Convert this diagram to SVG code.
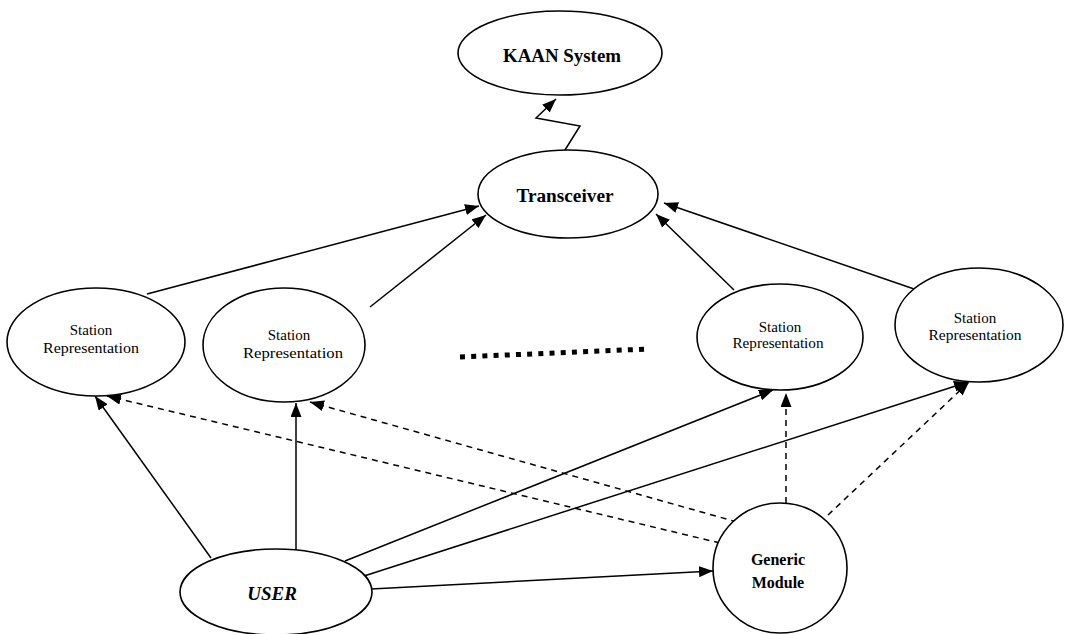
<svg xmlns="http://www.w3.org/2000/svg" width="1070" height="634" viewBox="0 0 1070 634">
  <style>
    .node { fill: #fff; stroke: #000; stroke-width: 1.6; }
    .lbl { font-family: "Liberation Serif", "Times New Roman", serif; fill: #000; text-anchor: middle; }
    .b { font-weight: bold; }
    .st { font-size: 15px; }
    .edge { fill: none; stroke: #000; stroke-width: 1.5; }
    .dash { stroke-dasharray: 6 5; }
  </style>
  <defs>
    <marker id="arrow" markerUnits="userSpaceOnUse" markerWidth="15" markerHeight="11" refX="14" refY="5.5" orient="auto">
      <path d="M0,0 L14,5.5 L0,11 z" fill="#000"/>
    </marker>
  </defs>
  <rect width="1070" height="634" fill="#fff"/>

  <g id="connectors">
    <!-- radio link -->
    <path class="edge" d="M565,150 L580,126 L536,118 L556,99" marker-end="url(#arrow)"/>
    <!-- stations to transceiver -->
    <line class="edge" x1="147" y1="294" x2="479" y2="206" marker-end="url(#arrow)"/>
    <line class="edge" x1="370" y1="307" x2="486" y2="215" marker-end="url(#arrow)"/>
    <line class="edge" x1="734" y1="290" x2="656" y2="214" marker-end="url(#arrow)"/>
    <line class="edge" x1="917" y1="290" x2="664" y2="203" marker-end="url(#arrow)"/>
    <!-- user links -->
    <line class="edge" x1="211" y1="558" x2="95" y2="396" marker-end="url(#arrow)"/>
    <line class="edge" x1="296" y1="552" x2="296" y2="403" marker-end="url(#arrow)"/>
    <line class="edge" x1="345" y1="561" x2="773" y2="390" marker-end="url(#arrow)"/>
    <line class="edge" x1="364" y1="576" x2="968" y2="382" marker-end="url(#arrow)"/>
    <line class="edge" x1="371" y1="589" x2="713" y2="571" marker-end="url(#arrow)"/>
    <!-- generic module links -->
    <line class="edge dash" x1="720" y1="543" x2="107" y2="396" marker-end="url(#arrow)"/>
    <line class="edge dash" x1="737" y1="522" x2="310" y2="402" marker-end="url(#arrow)"/>
    <line class="edge dash" x1="786" y1="503" x2="786" y2="393" marker-end="url(#arrow)"/>
    <line class="edge dash" x1="828" y1="515" x2="969" y2="382" marker-end="url(#arrow)"/>
    <!-- ellipsis between stations -->
    <line x1="460" y1="357" x2="648" y2="349" stroke="#000" stroke-width="5" stroke-dasharray="5 6.2"/>
  </g>

  <g id="kaan">
    <ellipse class="node" cx="560" cy="53" rx="102" ry="42"/>
    <text class="lbl b" x="562" y="62" font-size="18" textLength="118" lengthAdjust="spacingAndGlyphs">KAAN System</text>
  </g>

  <g id="transceiver">
    <ellipse class="node" cx="568" cy="194" rx="90" ry="44"/>
    <text class="lbl b" x="565" y="202" font-size="18" textLength="97" lengthAdjust="spacingAndGlyphs">Transceiver</text>
  </g>

  <g id="station1">
    <ellipse class="node" cx="96" cy="342" rx="89" ry="54"/>
    <text class="lbl st" x="91" y="335">Station</text>
    <text class="lbl st" x="91" y="353" textLength="96" lengthAdjust="spacingAndGlyphs">Representation</text>
  </g>

  <g id="station2">
    <ellipse class="node" cx="284" cy="345" rx="81" ry="57"/>
    <text class="lbl st" x="289" y="340">Station</text>
    <text class="lbl st" x="293" y="358" textLength="100" lengthAdjust="spacingAndGlyphs">Representation</text>
  </g>

  <g id="station3">
    <ellipse class="node" cx="780" cy="337" rx="83" ry="53"/>
    <text class="lbl st" x="780" y="332">Station</text>
    <text class="lbl st" x="778" y="348" textLength="91" lengthAdjust="spacingAndGlyphs">Representation</text>
  </g>

  <g id="station4">
    <ellipse class="node" cx="979" cy="325" rx="84" ry="57"/>
    <text class="lbl st" x="975" y="323">Station</text>
    <text class="lbl st" x="975" y="340" textLength="93" lengthAdjust="spacingAndGlyphs">Representation</text>
  </g>

  <g id="user">
    <ellipse class="node" cx="276" cy="592" rx="96" ry="43"/>
    <text class="lbl b" x="272" y="600" font-size="19" font-style="italic">USER</text>
  </g>

  <g id="generic">
    <ellipse class="node" cx="780" cy="568" rx="67" ry="65"/>
    <text class="lbl b" x="778" y="565" font-size="16">Generic</text>
    <text class="lbl b" x="778" y="588" font-size="16">Module</text>
  </g>
</svg>
